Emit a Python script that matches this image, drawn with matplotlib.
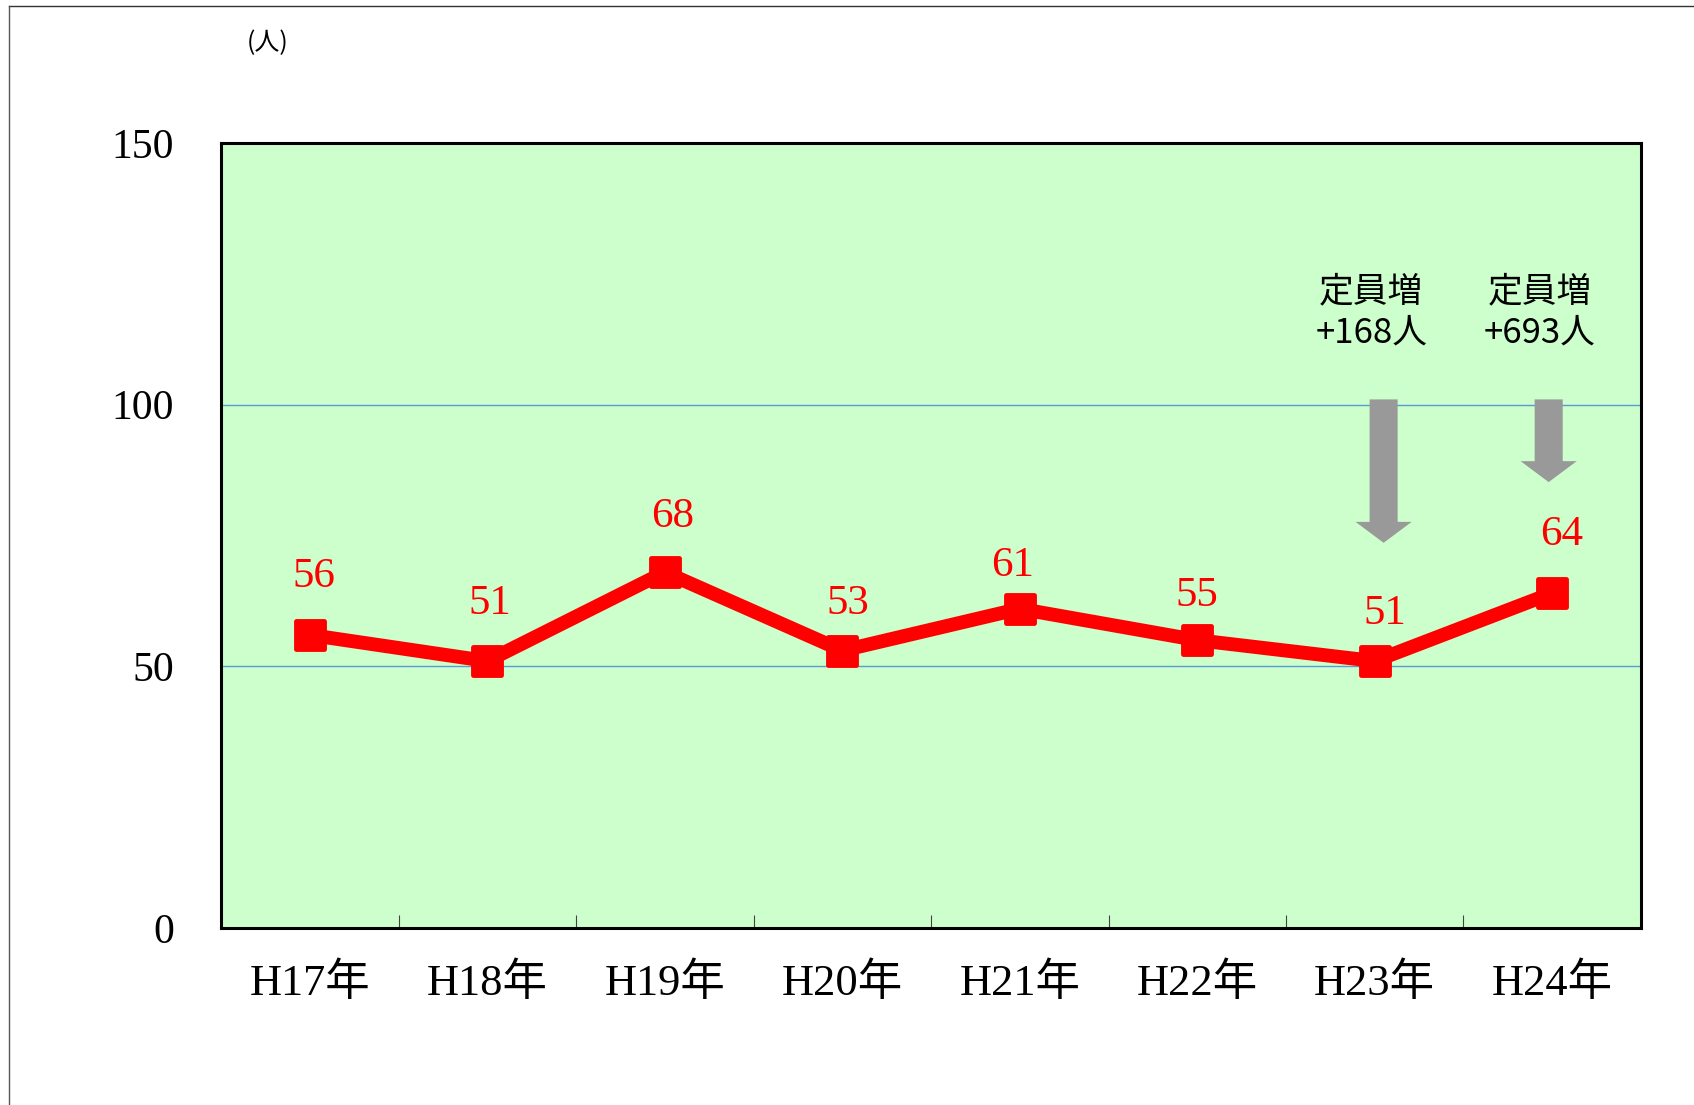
import numpy as np
import matplotlib
matplotlib.use('Agg')
import matplotlib.pyplot as plt
from matplotlib.patches import FancyArrow
from matplotlib.lines import Line2D
from matplotlib.markers import MarkerStyle

# Data
years = ['H17年', 'H18年', 'H19年', 'H20年', 'H21年', 'H22年', 'H23年', 'H24年']
counts = [56, 51, 68, 53, 61, 55, 51, 64]
y_ticks = [0, 50, 100, 150]

# Notes on the capacity increase (category index, text lines)
note_pos = [5.98, 6.93]
note_lines = [('定員増', '+168人'), ('定員増', '+693人')]

# Arrow layout (x in category units, y in data units)
arrow_x = [6.05, 6.98]
arrow_top = 101.0
arrow_tip = [73.6, 85.2]

# Per-label nudges (points) so the value labels sit like the original
label_dx = [3, 2, 6, 4, -5, 0, 7, 7]
label_dy = [42, 41, 40, 34, 31, 32, 34, 42]

SERIF = ['Liberation Serif', 'Noto Sans CJK JP']
GOTHIC = ['Noto Sans CJK JP', 'DejaVu Sans']
RED = '#FF0000'

fig = plt.figure(figsize=(16.94, 11.05), dpi=100)
ax = fig.add_axes([0.1305, 0.1602, 0.8382, 0.7104])
ax.set_facecolor('#CCFFCC')

x = np.arange(len(years))
# rounded square markers
sq = MarkerStyle('s', joinstyle='round')
ax.plot(x, counts, color=RED, lw=10, solid_joinstyle='miter', zorder=3,
        marker=sq, markersize=20, markerfacecolor=RED, markeredgecolor=RED,
        markeredgewidth=3.5)

for i, v in enumerate(counts):
    ax.annotate(str(v), (x[i], v), xytext=(label_dx[i], label_dy[i]),
                textcoords='offset points', ha='center', va='center',
                color=RED, fontsize=31, family=SERIF, zorder=4)

ax.set_xlim(-0.5, len(years) - 0.5)
ax.set_ylim(0, 150)

# x ticks sit between categories, labels at category centres
ax.set_xticks(x[:-1] + 0.5)
ax.set_xticklabels([])
ax.set_xticks(x, minor=True)
ax.set_xticklabels(years, minor=True, fontsize=32, family=SERIF)
ax.tick_params(axis='x', which='major', direction='in', length=9.5, width=0.8,
               color='#444444')
ax.tick_params(axis='x', which='minor', length=0, pad=25)

ax.set_yticks(y_ticks)
ax.set_yticklabels([str(t) for t in y_ticks], fontsize=30, family=SERIF)
ax.tick_params(axis='y', length=0, pad=34)

for yv in y_ticks[1:-1]:
    ax.axhline(yv, color='#5B9BD5', lw=1.0, zorder=1)

for sp in ax.spines.values():
    sp.set_linewidth(2.2)
    sp.set_color('black')

# grey arrows marking the intake increase
for xa, tip in zip(arrow_x, arrow_tip):
    ax.add_patch(FancyArrow(xa, arrow_top, 0, tip - arrow_top, width=0.158,
                            head_width=0.316, head_length=4.0,
                            length_includes_head=True, color='#999999',
                            lw=0, zorder=2))

for xn, (l1, l2) in zip(note_pos, note_lines):
    ax.text(xn, 121.5, l1, ha='center', va='center', fontsize=25, family=GOTHIC)
    ax.text(xn, 113.7, l2, ha='center', va='center', fontsize=25, family=GOTHIC)

# unit label
fig.text(268 / 1694, 1 - 43 / 1105, '(人)', ha='center', va='center',
         fontsize=18, family=GOTHIC)

# outer frame (top and left edges only, as in the original)
fig.add_artist(Line2D([9 / 1694, 1.0], [1 - 6 / 1105, 1 - 6 / 1105],
                      transform=fig.transFigure, color='#333333', lw=1))
fig.add_artist(Line2D([9 / 1694, 9 / 1694], [0, 1 - 6 / 1105],
                      transform=fig.transFigure, color='#555555', lw=1))

fig.savefig('out.png', dpi=100, facecolor='white')
